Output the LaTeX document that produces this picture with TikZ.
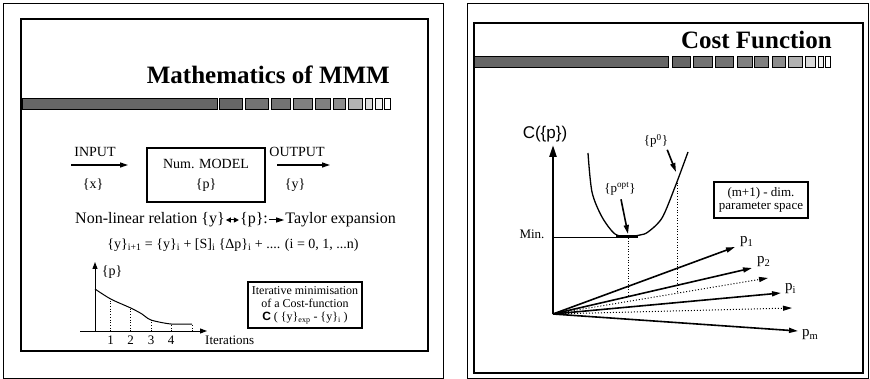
\documentclass[tikz,border=0pt]{standalone}
\usepackage{fontspec}
\setmainfont{Liberation Serif}
\newfontfamily\sansfont{Liberation Sans}
\usetikzlibrary{arrows.meta,positioning,calc}
\tikzset{
  frame/.style={draw=black, line width=0.8pt},
  panel/.style={draw=black, line width=1.3pt},
  heading/.style={font=\fontsize{25}{28}\selectfont\bfseries, inner sep=0pt, anchor=base east},
  label/.style={font=\fontsize{14}{16}\selectfont, inner sep=1pt},
  textline/.style={font=\fontsize{16}{18}\selectfont, inner sep=1pt},
  small/.style={font=\fontsize{13}{14}\selectfont, inner sep=1pt},
  model/.style={rectangle, draw=black, line width=2pt, minimum width=118pt,
                minimum height=54pt, align=center, font=\fontsize{14}{20}\selectfont},
  costbox/.style={rectangle, draw=black, line width=1.2pt, minimum width=114pt,
                  minimum height=46pt, align=center, font=\fontsize{12}{13}\selectfont, inner sep=2pt},
  dimbox/.style={rectangle, draw=black, line width=1.1pt, minimum width=94pt,
                 minimum height=36pt, align=center, font=\fontsize{13}{13}\selectfont, inner sep=2pt},
  arrow/.style={-{Triangle[length=8pt,width=5pt]}, line width=1.3pt},
  dblarrow/.style={{Triangle[length=5pt,width=5pt]}-{Triangle[length=5pt,width=5pt]}, line width=1pt},
  axis/.style={-{Triangle[length=7pt,width=5pt]}, line width=1pt},
  costaxis/.style={-{Triangle[length=12pt,width=7pt]}, line width=2.4pt},
  pointer/.style={-{Triangle[length=9pt,width=5pt]}, line width=1.6pt},
  vec/.style={-{Triangle[length=9pt,width=5pt]}, line width=1.6pt},
  vecdot/.style={-{Triangle[length=9pt,width=5pt]}, dotted, line width=1pt},
  guide/.style={dotted, line width=0.7pt},
  barblock/.style={draw=black, line width=0.6pt},
  vlabel/.style={font=\fontsize{15}{16}\selectfont, inner sep=1pt, anchor=west}
}

\begin{document}
\begin{tikzpicture}[x=1pt, y=-1pt]
\useasboundingbox (0,0) rectangle (870,379);
\fill[white] (0,0) rectangle (870,379);

% left slide
\draw[frame] (3,3) rectangle (443,378);
\draw[panel] (21,19) rectangle (428,351);
\node[heading] (lefttitle) at (390,84) {Mathematics of MMM};
\draw[barblock, fill=black!60] (22,98) rectangle (217,109);
\foreach \a/\b/\s in {219/242/60, 245/268/55, 271/290/55, 293/312/50, 315/330/50,
                      333/345/45, 348/362/30, 365/372/15, 375/382/5, 384/390/0}
  \draw[barblock, fill=black!\s] (\a,98) rectangle (\b,109);

\node[model] (model) at (206,175) {Num. MODEL\\\{p\}};
\coordinate (inA) at (71,165);
\coordinate (inB) at (128,165);
\coordinate (outA) at (277,165);
\coordinate (outB) at (330,165);
\draw[arrow] (inA) -- (inB);
\draw[arrow] (outA) -- (outB);
\node[label] (input) at (95,152) {INPUT};
\node[label] (xin) at (93,185) {\{x\}};
\node[label] (output) at (297,152) {OUTPUT};
\node[label] (yout) at (295,185) {\{y\}};

\node[textline, anchor=west] (nonlin) at (74,220) {Non-linear relation \{y\}};
\node[textline, right=13pt of nonlin] (prel) {\{p\}:};
\node[textline, right=15pt of prel] (taylor) {Taylor expansion};
\draw[dblarrow] (nonlin) -- (prel);
\draw[arrow, line width=1pt] (prel) -- (taylor);
\node[label] (taylorfml) at (233,245)
  {\{y\}\textsubscript{i+1} = \{y\}\textsubscript{i} + [S]\textsubscript{i} \{Δp\}\textsubscript{i} + .... (i = 0, 1, ...n)};

% iteration plot
\coordinate (xstart) at (80,331);
\coordinate (xend) at (207,331);
\coordinate (gorig) at (95,331);
\coordinate (ytop) at (95,262);
\draw[axis] (xstart) -- (xend);
\draw[axis] (gorig) -- (ytop);
\node[label] (plab) at (112,272) {\{p\}};
\draw[line width=1pt] plot[smooth] coordinates
  {(95,289) (110.7,299) (130.7,308) (142,314) (151,320) (171,324) (192,324)};
\foreach \x/\y in {110.7/299, 130.7/308, 151/320, 171/324, 192/324}
  \draw[guide] (\x,331) -- (\x,\y);
\foreach \x/\n in {110.7/1, 130.7/2, 151/3, 171/4}
  \node[small] (tick\n) at (\x,340) {\n};
\node[small, anchor=west] (iterlab) at (204,340) {Iterations};
\node[costbox] (costfn) at (305,305)
  {Iterative minimisation\\of a Cost-function\\{\sansfont\bfseries C} ( \{y\}\textsubscript{exp} - \{y\}\textsubscript{i} )};

% right slide
\draw[frame] (467,3) rectangle (868,378);
\draw[panel] (474,23) rectangle (863,373);
\node[heading] (righttitle) at (832,49) {Cost Function};
\draw[barblock, fill=black!60] (474,56) rectangle (668,67);
\foreach \a/\b/\s in {672/690/60, 693/712/55, 715/733/55, 737/752/50, 754/768/50,
                      772/785/45, 788/802/30, 805/815/15, 818/823/5, 825/830/0}
  \draw[barblock, fill=black!\s] (\a,56) rectangle (\b,67);

\node[font=\sansfont\fontsize{17}{19}\selectfont, inner sep=1pt] (cost) at (545,134) {C(\{p\})};
\coordinate (corig) at (553,314);
\coordinate (ctop) at (553,145);
\draw[costaxis] (corig) -- (ctop);
\node[small] (minlab) at (532,234) {Min.};
\coordinate (minL) at (553,237);
\coordinate (minR) at (617,237);
\draw[line width=0.9pt] (minL) -- (minR);
\draw[line width=1.3pt] plot[smooth] coordinates
  {(588,153) (592,192) (602,217) (615,234) (628,236.5) (640,235) (648,232) (662,218) (675,187) (688,152)};
\draw[line width=2.2pt] (616,236.5) -- (638,236.5);
\draw[guide] (628,238) -- (628,297);
\draw[guide] (677,180) -- (677,292);

\node[small] (popt) at (620,189) {\{p\textsuperscript{opt}\}};
\coordinate (poptTip) at (628,234);
\draw[pointer] (popt.south) ++(1,3) -- (poptTip);
\node[small] (pzero) at (656,141) {\{p\textsuperscript{0}\}};
\coordinate (pzeroTip) at (676,172);
\draw[pointer] (pzero.south east) ++(-2,1) -- (pzeroTip);

\node[dimbox] (dim) at (761,200) {(m+1) - dim.\\parameter space};

% parameter vectors
\coordinate (t1) at (735,247);
\coordinate (t2) at (752,268);
\coordinate (td1) at (768,278);
\coordinate (ti) at (781,293);
\coordinate (td2) at (792,308);
\coordinate (tm) at (798,331);
\draw[vec] (corig) -- (t1);
\draw[vec] (corig) -- (t2);
\draw[vecdot] (corig) -- (td1);
\draw[vec] (corig) -- (ti);
\draw[vecdot] (corig) -- (td2);
\draw[vec] (corig) -- (tm);
\node[vlabel] (p1) at (739,242) {p\textsubscript{1}};
\node[vlabel] (p2) at (756,262) {p\textsubscript{2}};
\node[vlabel] (pi) at (784,289) {p\textsubscript{i}};
\node[vlabel] (pm) at (801,335) {p\textsubscript{m}};
\end{tikzpicture}
\end{document}
